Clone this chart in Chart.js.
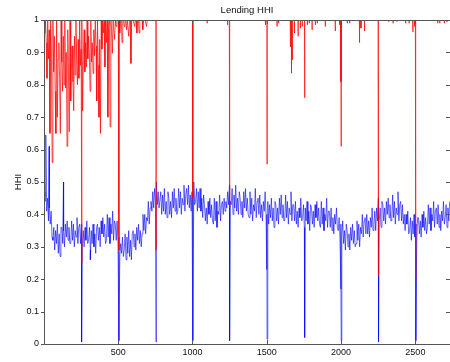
<!DOCTYPE html>
<html>
<head>
<meta charset="utf-8">
<script src="https://cdn.jsdelivr.net/npm/chart.js@4"></script>
<style>
html, body { margin: 0; padding: 0; background: #fff; }
canvas { display: block; }
</style>
</head>
<body>
<canvas id="hhiChart" width="450" height="362"></canvas>
<script>
// x axis: observation number
const xMin = 1, xMax = 2733;
const xTicks = [500, 1000, 1500, 2000, 2500];
const yTicks = [0, 0.1, 0.2, 0.3, 0.4, 0.5, 0.6, 0.7, 0.8, 0.9, 1];
const yTickLabels = ["0", "0.1", "0.2", "0.3", "0.4", "0.5", "0.6", "0.7", "0.8", "0.9", "1"];

// blue series, one value every 6 observations starting at 1
const blueStart = 1, blueStep = 6;
const blueHHI = [
  0.47, 0.44, 0.50, 0.41, 0.45, 0.38, 0.42, 0.37, 0.41, 0.33,
  0.32, 0.36, 0.29, 0.35, 0.31, 0.37, 0.28, 0.34, 0.27, 0.36,
  0.36, 0.31, 0.35, 0.30, 0.37, 0.33, 0.38, 0.32, 0.36, 0.31,
  0.31, 0.38, 0.32, 0.37, 0.30, 0.35, 0.33, 0.39, 0.31, 0.36,
  0.37, 0.31, 0.37, 0.30, 0.35, 0.30, 0.36, 0.32, 0.38, 0.31,
  0.32, 0.36, 0.29, 0.35, 0.31, 0.37, 0.30, 0.34, 0.28, 0.36,
  0.37, 0.32, 0.36, 0.30, 0.38, 0.34, 0.39, 0.33, 0.37, 0.31,
  0.32, 0.40, 0.33, 0.39, 0.31, 0.37, 0.34, 0.41, 0.32, 0.38,
  0.37, 0.32, 0.38, 0.31, 0.33, 0.27, 0.31, 0.28, 0.33, 0.27,
  0.29, 0.34, 0.26, 0.33, 0.28, 0.35, 0.27, 0.32, 0.26, 0.34,
  0.35, 0.30, 0.34, 0.29, 0.36, 0.32, 0.37, 0.31, 0.35, 0.30,
  0.34, 0.40, 0.35, 0.40, 0.34, 0.39, 0.38, 0.44, 0.37, 0.42,
  0.44, 0.41, 0.47, 0.42, 0.48, 0.44, 0.50, 0.43, 0.47, 0.42,
  0.42, 0.47, 0.40, 0.46, 0.41, 0.48, 0.40, 0.44, 0.39, 0.47,
  0.45, 0.40, 0.44, 0.39, 0.47, 0.42, 0.48, 0.41, 0.45, 0.40,
  0.41, 0.48, 0.42, 0.47, 0.40, 0.45, 0.43, 0.49, 0.41, 0.46,
  0.48, 0.43, 0.49, 0.42, 0.46, 0.41, 0.47, 0.44, 0.50, 0.43,
  0.44, 0.48, 0.41, 0.47, 0.42, 0.48, 0.41, 0.45, 0.39, 0.46,
  0.43, 0.38, 0.42, 0.37, 0.44, 0.40, 0.45, 0.39, 0.43, 0.38,
  0.37, 0.45, 0.38, 0.44, 0.36, 0.41, 0.40, 0.46, 0.38, 0.43,
  0.44, 0.40, 0.45, 0.41, 0.44, 0.42, 0.47, 0.43, 0.49, 0.44,
  0.43, 0.48, 0.40, 0.46, 0.42, 0.49, 0.41, 0.45, 0.40, 0.47,
  0.45, 0.40, 0.44, 0.39, 0.47, 0.42, 0.48, 0.41, 0.45, 0.40,
  0.39, 0.47, 0.40, 0.45, 0.38, 0.43, 0.41, 0.48, 0.39, 0.44,
  0.45, 0.40, 0.46, 0.39, 0.43, 0.38, 0.44, 0.41, 0.47, 0.40,
  0.40, 0.44, 0.37, 0.43, 0.39, 0.45, 0.38, 0.42, 0.36, 0.44,
  0.43, 0.38, 0.42, 0.37, 0.45, 0.40, 0.46, 0.39, 0.43, 0.38,
  0.38, 0.46, 0.39, 0.44, 0.37, 0.42, 0.40, 0.47, 0.38, 0.43,
  0.43, 0.38, 0.44, 0.37, 0.41, 0.36, 0.42, 0.39, 0.45, 0.38,
  0.39, 0.43, 0.36, 0.42, 0.38, 0.44, 0.37, 0.41, 0.35, 0.43,
  0.42, 0.37, 0.41, 0.36, 0.43, 0.39, 0.44, 0.38, 0.42, 0.37,
  0.36, 0.44, 0.37, 0.42, 0.35, 0.40, 0.38, 0.45, 0.36, 0.41,
  0.41, 0.36, 0.42, 0.35, 0.39, 0.34, 0.40, 0.37, 0.42, 0.36,
  0.35, 0.39, 0.32, 0.37, 0.33, 0.38, 0.31, 0.35, 0.29, 0.37,
  0.35, 0.30, 0.34, 0.29, 0.36, 0.32, 0.37, 0.31, 0.35, 0.30,
  0.31, 0.38, 0.32, 0.37, 0.30, 0.36, 0.34, 0.40, 0.33, 0.38,
  0.39, 0.34, 0.40, 0.34, 0.38, 0.33, 0.39, 0.36, 0.42, 0.35,
  0.37, 0.41, 0.35, 0.42, 0.38, 0.45, 0.38, 0.42, 0.36, 0.44,
  0.43, 0.38, 0.42, 0.37, 0.44, 0.40, 0.45, 0.39, 0.43, 0.38,
  0.38, 0.46, 0.39, 0.44, 0.37, 0.42, 0.40, 0.47, 0.38, 0.43,
  0.44, 0.38, 0.43, 0.37, 0.40, 0.35, 0.40, 0.37, 0.41, 0.34,
  0.35, 0.39, 0.32, 0.38, 0.34, 0.40, 0.33, 0.37, 0.31, 0.39,
  0.39, 0.34, 0.38, 0.33, 0.40, 0.36, 0.41, 0.35, 0.39, 0.34,
  0.36, 0.43, 0.37, 0.42, 0.35, 0.40, 0.38, 0.44, 0.36, 0.41,
  0.42, 0.37, 0.43, 0.36, 0.40, 0.35, 0.41, 0.38, 0.44, 0.37,
  0.39, 0.43, 0.36, 0.42, 0.38, 0.44
];
// isolated blue observations [x, value]: early highs and the year-end drops
const blueSpikes = [
  [13, 0.645], [36, 0.61], [132, 0.50], [253, 0.19], [255, 0.006], [313, 0.26],
  [505, 0.01], [755, 0.006], [1001, 0.24], [1003, 0.01], [1249, 0.23], [1251, 0.01],
  [1500, 0.23], [1502, 0.015], [1755, 0.02], [1999, 0.17], [2001, 0.01],
  [2252, 0.006], [2503, 0.01]
];

// red series, one value every 5 observations over the first 700
const redStart = 1, redStep = 5;
const redEarly = [
  1, 0.96, 1, 0.93, 0.82, 1, 0.88, 0.97, 0.65, 1,
  0.90, 0.56, 1, 0.84, 0.95, 0.78, 0.65, 1, 0.70, 0.88,
  0.93, 0.82, 0.65, 1, 0.87, 0.78, 0.95, 0.80, 1, 0.79,
  0.90, 0.61, 0.97, 0.84, 0.655, 1, 0.75, 0.88, 0.92, 0.81,
  0.72, 0.95, 0.83, 1, 0.877, 0.80, 0.94, 0.82, 1, 0.86,
  0.91, 1, 0.72, 0.89, 0.97, 0.84, 0.93, 0.855, 1, 0.88,
  0.95, 0.90, 0.78, 1, 0.87, 0.93, 0.835, 0.97, 0.89, 1,
  0.92, 0.75, 1, 0.86, 0.70, 0.94, 0.65, 1, 0.91, 1,
  0.96, 1, 0.855, 1, 0.93, 1, 0.70, 0.98, 1, 0.67,
  1, 0.97, 0.897, 1, 1, 0.94, 1, 0.98, 1, 1,
  1, 1, 0.96, 1, 1, 0.93, 1, 1, 0.98, 1,
  1, 0.97, 1, 1, 0.95, 1, 1, 0.866, 1, 1,
  1, 1, 0.98, 1, 1, 0.96, 1, 1, 0.96, 1,
  1, 1, 1, 0.97, 1, 1, 1, 1, 0.98, 1
];
// red drops below 1 elsewhere [x, value]; the series sits at 1 between them
const redDips = [
  [255, 0.25], [505, 0.29], [755, 0.29], [1001, 0.74], [1003, 0.45],
  [1099, 0.99], [1236, 0.985], [1249, 0.73], [1251, 0.42],
  [1491, 0.985], [1502, 0.555], [1569, 0.98], [1580, 0.99],
  [1659, 0.917], [1666, 0.836], [1672, 0.877], [1686, 0.96], [1711, 0.95],
  [1726, 0.975], [1739, 0.98], [1755, 0.76], [1773, 0.985], [1786, 0.99],
  [1805, 0.97], [1827, 0.985], [1840, 0.99], [1894, 0.98], [1961, 0.966],
  [1990, 0.985], [1999, 0.81], [2001, 0.61], [2042, 0.99], [2058, 0.99],
  [2124, 0.93], [2134, 0.975], [2158, 0.966], [2250, 0.61], [2252, 0.21],
  [2320, 0.995], [2350, 0.99], [2375, 0.995], [2435, 0.99], [2458, 0.99],
  [2483, 0.963], [2494, 0.98], [2501, 0.64], [2503, 0.20],
  [2650, 0.99], [2664, 0.99], [2695, 0.99], [2712, 0.995]
];

const byX = (a, b) => a.x - b.x;

const bluePoints = blueHHI.map((v, i) => ({ x: blueStart + i * blueStep, y: v }))
  .concat(blueSpikes.map(([x, v]) => ({ x, y: v })))
  .sort(byX);

const redEarlyEnd = redStart + (redEarly.length - 1) * redStep;
const redPoints = redEarly.map((v, i) => ({ x: redStart + i * redStep, y: v }));
redDips.forEach(([x, v]) => {
  if (x <= redEarlyEnd) {
    redPoints.push({ x, y: v });
  } else {
    redPoints.push({ x: x - 1, y: 1 }, { x, y: v }, { x: x + 1, y: 1 });
  }
});
redPoints.push({ x: xMax, y: 1 });
redPoints.sort(byX);

const fontFam = '"Liberation Sans", Arial, Helvetica, sans-serif';

// box, tick marks and the two titles, drawn over the lines like a MATLAB axes
const matlabAxes = {
  id: 'matlabAxes',
  afterDatasetsDraw(chart) {
    const { ctx, chartArea: a, scales } = chart;
    ctx.save();
    ctx.strokeStyle = '#555';
    ctx.lineWidth = 1;
    ctx.beginPath();
    ctx.moveTo(a.left + 0.5, a.bottom + 0.5);
    ctx.lineTo(a.left + 0.5, a.top + 0.5);
    ctx.lineTo(a.right, a.top + 0.5);
    ctx.moveTo(a.left + 0.5, a.bottom + 0.5);
    ctx.lineTo(a.right, a.bottom + 0.5);
    yTicks.forEach(v => {
      const y = Math.round(scales.y.getPixelForValue(v)) + 0.5;
      ctx.moveTo(a.left - 3, y);
      ctx.lineTo(a.left + 0.5, y);
      ctx.moveTo(a.right - 4, y);
      ctx.lineTo(a.right, y);
    });
    xTicks.forEach(v => {
      const x = Math.round(scales.x.getPixelForValue(v)) + 0.5;
      ctx.moveTo(x, a.bottom);
      ctx.lineTo(x, a.bottom - 4);
      ctx.moveTo(x, a.top + 1);
      ctx.lineTo(x, a.top + 4);
    });
    ctx.stroke();

    ctx.fillStyle = '#111';
    ctx.font = '9.5px ' + fontFam;
    ctx.textAlign = 'center';
    ctx.textBaseline = 'middle';
    ctx.fillText('Lending HHI', (a.left + a.right) / 2, 10);
    ctx.translate(18, (a.top + a.bottom) / 2);
    ctx.rotate(-Math.PI / 2);
    ctx.fillText('HHI', 0, 0);
    ctx.restore();
  }
};

new Chart(document.getElementById('hhiChart'), {
  type: 'line',
  data: {
    datasets: [
      {
        label: 'red',
        data: redPoints,
        borderColor: 'rgb(255,0,0)',
        borderWidth: 0.7,
        pointRadius: 0,
        tension: 0,
        fill: false
      },
      {
        label: 'blue',
        data: bluePoints,
        borderColor: 'rgb(0,0,255)',
        borderWidth: 0.6,
        pointRadius: 0,
        tension: 0,
        fill: false
      }
    ]
  },
  options: {
    responsive: false,
    animation: false,
    events: [],
    layout: { padding: { top: 20, right: 0, bottom: 0, left: 0 } },
    plugins: {
      legend: { display: false },
      title: { display: false },
      tooltip: { enabled: false }
    },
    scales: {
      x: {
        type: 'linear',
        min: xMin,
        max: xMax,
        grid: { display: false, drawTicks: false },
        border: { display: false },
        afterBuildTicks: s => { s.ticks = xTicks.map(v => ({ value: v })); },
        afterFit: s => { s.height = 18; },
        ticks: {
          color: '#111',
          padding: 3,
          maxRotation: 0,
          font: { family: fontFam, size: 9 },
          callback: v => String(v)
        }
      },
      y: {
        type: 'linear',
        min: 0,
        max: 1,
        grid: { display: false, drawTicks: false },
        border: { display: false },
        afterBuildTicks: s => { s.ticks = yTicks.map(v => ({ value: v })); },
        afterFit: s => { s.width = 44; },
        ticks: {
          color: '#111',
          padding: 5,
          font: { family: fontFam, size: 9 },
          callback: (v, i) => yTickLabels[i]
        }
      }
    }
  },
  plugins: [matlabAxes]
});
</script>
</body>
</html>
